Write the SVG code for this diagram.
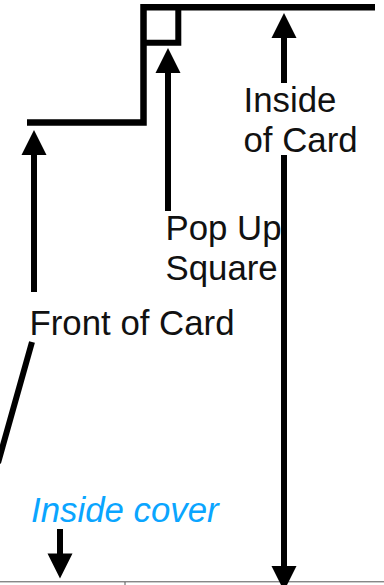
<svg xmlns="http://www.w3.org/2000/svg" width="384" height="585" viewBox="0 0 384 585">
<style>
.l{font-family:"Liberation Sans",Arial,sans-serif;font-size:34.800px;fill:#111}
.s{stroke:#000;fill:none}
.a{stroke:#000;stroke-width:6;fill:none}
.h{fill:#000}
</style>
<rect width="384" height="585" fill="#fff"/>
<g id="card-outline">
<path class="s" stroke-width="6.500" d="M27 122.500H143.500V7.300H375"/>
<path class="s" stroke-width="6" d="M143.500 42.800H178.300V7"/>
</g>
<g id="baseline">
<path d="M0 581.800H384M125 582V585" stroke="#555" stroke-width="1" fill="none"/>
</g>
<g id="connectors">
<path class="a" d="M34 155V292"/><polygon class="h" points="34,130 46.500,155 21.500,155"/>
<path class="a" d="M168 73V211"/><polygon class="h" points="168,48 180.500,73 155.500,73"/>
<path class="a" d="M284 38V83"/><polygon class="h" points="284,13 296.500,38 271.500,38"/>
<path class="a" d="M284 155V566"/><polygon class="h" points="284,591 296.500,566 271.500,566"/>
<path class="a" d="M60 529V554"/><polygon class="h" points="60,578.500 72.500,553.500 47.500,553.500"/>
<path class="a" d="M32 342L-2 463"/>
</g>
<g id="inside-of-card"><text class="l" x="243.500" y="112">Inside</text><text class="l" x="243.500" y="152">of Card</text></g>
<g id="pop-up-square"><text class="l" x="165.500" y="239.500">Pop Up</text><text class="l" x="165.500" y="279.500">Square</text></g>
<g id="front-of-card"><text class="l" x="29.500" y="334.500">Front of Card</text></g>
<g id="inside-cover"><text x="31" y="522" font-family="'Liberation Sans',Arial,sans-serif" font-size="34.800" font-style="italic" fill="#0aa5ff">Inside cover</text></g>
</svg>
